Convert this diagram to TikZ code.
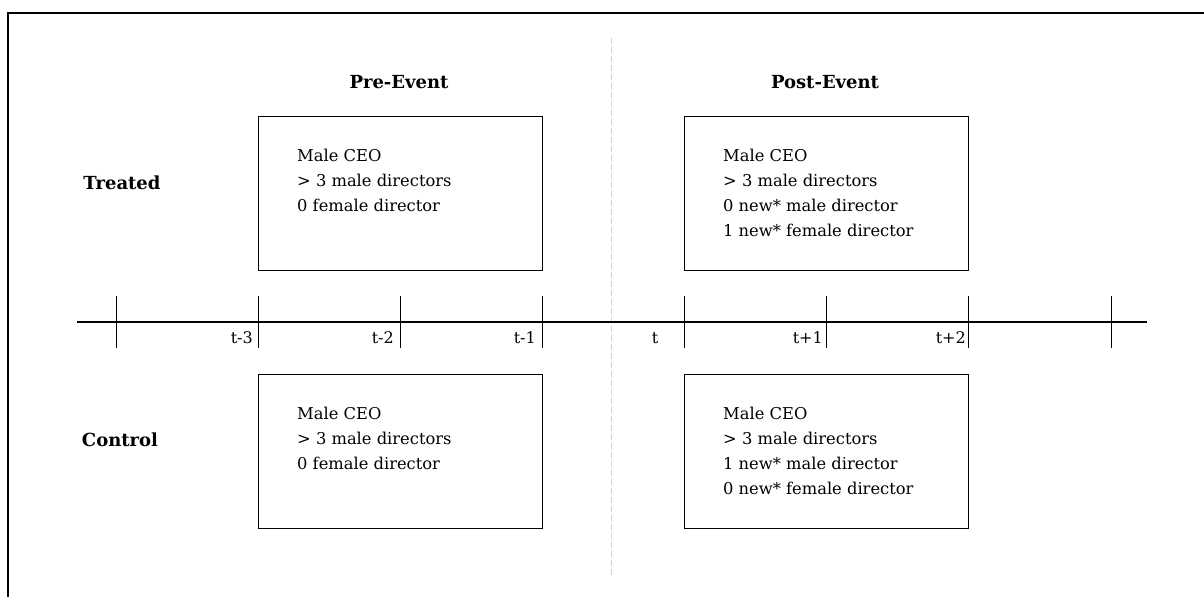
\documentclass[tikz,border=0pt]{standalone}
\usepackage{fontspec}
\setmainfont{DejaVu Serif}
\begin{document}
\begin{tikzpicture}[x=1pt,y=-1pt,
  frame/.style={line width=1.3pt},
  event/.style={draw, line width=1.2pt, minimum width=284pt, minimum height=154pt, anchor=north west, inner sep=0pt},
  boxtext/.style={anchor=north west, align=left, inner sep=0pt, font=\fontsize{16.3}{25}\selectfont},
  head/.style={font=\fontsize{18}{20}\selectfont\bfseries},
  tick/.style={line width=1pt},
  tlabel/.style={font=\fontsize{16}{18}\selectfont, inner sep=0pt},
  divider/.style={draw=black!18, line width=1pt, dash pattern=on 6pt off 3pt}]
\useasboundingbox (0,0) rectangle (1204,597);
% frame (only top and left edges visible)
\coordinate (fbl) at (8,597);
\coordinate (ftl) at (8,13);
\coordinate (ftr) at (1204,13);
\draw[frame] (fbl) -- (ftl) -- (ftr);
% divider
\coordinate (dtop) at (611,38);
\coordinate (dbot) at (611,577);
\draw[divider] (dtop) -- (dbot);
% headings
\node[head] (pre) at (399,82) {Pre-Event};
\node[head] (post) at (825,82) {Post-Event};
\node[head] (treated) at (122,183) {Treated};
\node[head] (control) at (120,440) {Control};
% boxes
\node[event] (tpre) at (258,116) {};
\node[event] (tpost) at (684,116) {};
\node[event] (cpre) at (258,374) {};
\node[event] (cpost) at (684,374) {};
\node[boxtext] (ttpre) at (297,149) {Male CEO\\> 3 male directors\\0 female director};
\node[boxtext] (ttpost) at (723,149) {Male CEO\\> 3 male directors\\0 new* male director\\1 new* female director};
\node[boxtext] (tcpre) at (297,407) {Male CEO\\> 3 male directors\\0 female director};
\node[boxtext] (tcpost) at (723,407) {Male CEO\\> 3 male directors\\1 new* male director\\0 new* female director};
% timeline
\coordinate (ls) at (77,322);
\coordinate (le) at (1147,322);
\draw[line width=1.1pt] (ls) -- (le);
\foreach \x/\n in {116/a,258/b,400/c,542/d,684/e,826/f,968/g,1111/h}{
  \coordinate (\n1) at (\x,296);
  \coordinate (\n2) at (\x,348);
  \draw[tick] (\n1) -- (\n2);
}
\node[tlabel, anchor=east] (l1) at (253,338) {t-3};
\node[tlabel, anchor=east] (l2) at (394,338) {t-2};
\node[tlabel, anchor=east] (l3) at (536,338) {t-1};
\node[tlabel] (l4) at (655,338) {t};
\node[tlabel, anchor=east] (l5) at (823,338) {t+1};
\node[tlabel, anchor=east] (l6) at (966,338) {t+2};
\end{tikzpicture}
\end{document}
